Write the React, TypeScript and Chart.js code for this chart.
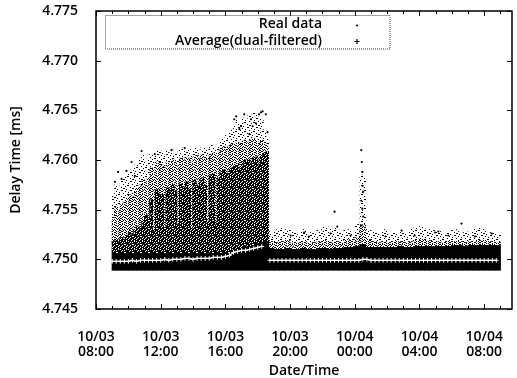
import React, { useEffect, useRef } from 'react';
import { Chart, registerables } from 'chart.js';

Chart.register(...registerables);

// ---- axes ----
const X_MIN = 8; // hours since 10/03 00:00
const X_MAX = 33.72;
const xTickHours = [8, 12, 16, 20, 24, 28, 32];
const xTickLabels = [
  ['10/03', '08:00'], ['10/03', '12:00'], ['10/03', '16:00'], ['10/03', '20:00'],
  ['10/04', '00:00'], ['10/04', '04:00'], ['10/04', '08:00'],
];
const yTicks = [4.745, 4.75, 4.755, 4.76, 4.765, 4.77, 4.775];

// ---- Real data: lower edge of the dense band ----
const REAL_MIN = 4.7489;

// Day segment, 10-minute bins
const dayBins = [
  '10/03 09:00', '10/03 09:10', '10/03 09:20', '10/03 09:30', '10/03 09:40', '10/03 09:50',
  '10/03 10:00', '10/03 10:10', '10/03 10:20', '10/03 10:30', '10/03 10:40', '10/03 10:50',
  '10/03 11:00', '10/03 11:10', '10/03 11:20', '10/03 11:30', '10/03 11:40', '10/03 11:50',
  '10/03 12:00', '10/03 12:10', '10/03 12:20', '10/03 12:30', '10/03 12:40', '10/03 12:50',
  '10/03 13:00', '10/03 13:10', '10/03 13:20', '10/03 13:30', '10/03 13:40', '10/03 13:50',
  '10/03 14:00', '10/03 14:10', '10/03 14:20', '10/03 14:30', '10/03 14:40', '10/03 14:50',
  '10/03 15:00', '10/03 15:10', '10/03 15:20', '10/03 15:30', '10/03 15:40', '10/03 15:50',
  '10/03 16:00', '10/03 16:10', '10/03 16:20', '10/03 16:30', '10/03 16:40', '10/03 16:50',
  '10/03 17:00', '10/03 17:10', '10/03 17:20', '10/03 17:30', '10/03 17:40', '10/03 17:50',
  '10/03 18:00', '10/03 18:10', '10/03 18:20', '10/03 18:30',
];
// top of the solid band
const dayBand = [
  4.7506, 4.7506, 4.7506, 4.7506, 4.7506, 4.7506,
  4.7506, 4.7506, 4.7506, 4.7506, 4.7506, 4.7506,
  4.7506, 4.7506, 4.7506, 4.7506, 4.7506, 4.7506,
  4.7506, 4.7506, 4.7506, 4.7506, 4.7506, 4.7506,
  4.7506, 4.7506, 4.7506, 4.7506, 4.7506, 4.7506,
  4.7506, 4.7506, 4.7506, 4.7506, 4.7506, 4.7506,
  4.7506, 4.7506, 4.7506, 4.7506, 4.7506, 4.7506,
  4.7506, 4.7506, 4.7508, 4.7510, 4.7511, 4.7511,
  4.7512, 4.7512, 4.7513, 4.7513, 4.7514, 4.7515,
  4.7516, 4.7517, 4.7518, 4.7518,
];
// top of the heavy (mostly black) cloud
const dayCore = [
  4.7518, 4.7520, 4.7518, 4.7522, 4.7520, 4.7524,
  4.7527, 4.7524, 4.7530, 4.7533, 4.7530, 4.7538,
  4.7545, 4.7542, 4.7560, 4.7528, 4.7570, 4.7566,
  4.7565, 4.7532, 4.7572, 4.7568, 4.7575, 4.7570,
  4.7535, 4.7576, 4.7572, 4.7578, 4.7570, 4.7530,
  4.7580, 4.7575, 4.7578, 4.7582, 4.7575, 4.7538,
  4.7584, 4.7586, 4.7535, 4.7582, 4.7588, 4.7590,
  4.7586, 4.7590, 4.7592, 4.7594, 4.7596, 4.7590,
  4.7598, 4.7600, 4.7600, 4.7598, 4.7602, 4.7603,
  4.7595, 4.7604, 4.7607, 4.7608,
];
// top of the medium-density cloud
const dayDense = [
  4.7540, 4.7552, 4.7548, 4.7555, 4.7558, 4.7560,
  4.7565, 4.7562, 4.7568, 4.7572, 4.7575, 4.7580,
  4.7578, 4.7582, 4.7592, 4.7590, 4.7598, 4.7598,
  4.7595, 4.7592, 4.7598, 4.7595, 4.7600, 4.7598,
  4.7595, 4.7602, 4.7600, 4.7603, 4.7602, 4.7598,
  4.7603, 4.7605, 4.7602, 4.7605, 4.7603, 4.7600,
  4.7606, 4.7608, 4.7603, 4.7608, 4.7612, 4.7614,
  4.7610, 4.7614, 4.7616, 4.7616, 4.7618, 4.7616,
  4.7618, 4.7620, 4.7618, 4.7620, 4.7622, 4.7620,
  4.7616, 4.7620, 4.7618, 4.7614,
];
// top of the sparse cloud
const daySparse = [
  4.7566, 4.7575, 4.7572, 4.7580, 4.7582, 4.7585,
  4.7590, 4.7588, 4.7595, 4.7598, 4.7602, 4.7605,
  4.7600, 4.7603, 4.7606, 4.7604, 4.7609, 4.7610,
  4.7608, 4.7605, 4.7610, 4.7606, 4.7610, 4.7607,
  4.7605, 4.7610, 4.7612, 4.7610, 4.7612, 4.7608,
  4.7612, 4.7612, 4.7610, 4.7613, 4.7612, 4.7610,
  4.7615, 4.7614, 4.7612, 4.7618, 4.7620, 4.7622,
  4.7625, 4.7628, 4.7630, 4.7635, 4.7640, 4.7638,
  4.7642, 4.7645, 4.7640, 4.7645, 4.7648, 4.7645,
  4.7640, 4.7642, 4.7630, 4.7622,
];

// Night segment, 20-minute bins
const nightBins = [
  '10/03 18:40', '10/03 19:00', '10/03 19:20', '10/03 19:40', '10/03 20:00', '10/03 20:20',
  '10/03 20:40', '10/03 21:00', '10/03 21:20', '10/03 21:40', '10/03 22:00', '10/03 22:20',
  '10/03 22:40', '10/03 23:00', '10/03 23:20', '10/03 23:40',
  '10/04 00:00', '10/04 00:20', '10/04 00:40', '10/04 01:00', '10/04 01:20', '10/04 01:40',
  '10/04 02:00', '10/04 02:20', '10/04 02:40', '10/04 03:00', '10/04 03:20', '10/04 03:40',
  '10/04 04:00', '10/04 04:20', '10/04 04:40', '10/04 05:00', '10/04 05:20', '10/04 05:40',
  '10/04 06:00', '10/04 06:20', '10/04 06:40', '10/04 07:00', '10/04 07:20', '10/04 07:40',
  '10/04 08:00', '10/04 08:20', '10/04 08:40',
];
const nightCore = [
  4.7511, 4.7510, 4.7510, 4.7511, 4.7510, 4.7510, 4.7511, 4.7510, 4.7510, 4.7511, 4.7511, 4.7510,
  4.7511, 4.7511, 4.7512, 4.7512,
  4.7513, 4.7515, 4.7512, 4.7512, 4.7512, 4.7512, 4.7512, 4.7512, 4.7513, 4.7512, 4.7512, 4.7513,
  4.7513, 4.7513, 4.7513, 4.7513, 4.7513, 4.7513, 4.7514, 4.7514, 4.7513, 4.7514, 4.7514, 4.7514,
  4.7514, 4.7514, 4.7514,
];
const nightDense = [
  4.7518, 4.7517, 4.7518, 4.7519, 4.7516, 4.7517, 4.7518, 4.7516, 4.7517, 4.7518, 4.7519, 4.7517,
  4.7518, 4.7517, 4.7520, 4.7518,
  4.7522, 4.7535, 4.7520, 4.7518, 4.7517, 4.7518, 4.7517, 4.7518, 4.7518, 4.7517, 4.7518, 4.7519,
  4.7520, 4.7519, 4.7518, 4.7518, 4.7517, 4.7518, 4.7518, 4.7518, 4.7517, 4.7518, 4.7518, 4.7519,
  4.7518, 4.7518, 4.7517,
];
const nightSparse = [
  4.7528, 4.7530, 4.7532, 4.7530, 4.7528, 4.7525, 4.7530, 4.7527, 4.7526, 4.7530, 4.7533, 4.7530,
  4.7532, 4.7527, 4.7530, 4.7528,
  4.7535, 4.7585, 4.7530, 4.7528, 4.7526, 4.7530, 4.7525, 4.7527, 4.7528, 4.7527, 4.7530, 4.7532,
  4.7533, 4.7530, 4.7529, 4.7528, 4.7526, 4.7527, 4.7530, 4.7528, 4.7527, 4.7528, 4.7530, 4.7532,
  4.7528, 4.7527, 4.7525,
];

// Isolated real-data points
const outlierTimes = [
  '10/03 09:10', '10/03 09:22', '10/03 09:35', '10/03 09:53', '10/03 10:12', '10/03 10:24',
  '10/03 10:49', '10/03 11:38', '10/03 12:40', '10/03 13:29', '10/03 16:33', '10/03 16:40',
  '10/03 16:52', '10/03 16:58', '10/03 17:10', '10/03 17:29', '10/03 17:35', '10/03 17:41',
  '10/03 17:53', '10/03 18:05', '10/03 18:12', '10/03 18:18', '10/03 18:30', '10/03 18:36',
  '10/03 20:02', '10/03 20:52', '10/03 21:10', '10/03 22:30', '10/03 22:45', '10/03 22:55',
  '10/03 23:44', '10/04 00:24', '10/04 00:26', '10/04 00:28', '10/04 00:29', '10/04 00:31',
  '10/04 00:24', '10/04 00:28', '10/04 00:31', '10/04 00:25', '10/04 01:54', '10/04 02:54',
  '10/04 03:42', '10/04 04:58', '10/04 05:10', '10/04 05:47', '10/04 06:36', '10/04 07:26',
  '10/04 08:27',
];
const outlierValues = [
  4.7578, 4.7588, 4.7581, 4.7589, 4.7598, 4.7584,
  4.7609, 4.7606, 4.7610, 4.7612, 4.7641, 4.7644,
  4.7631, 4.7634, 4.7646, 4.7626, 4.7641, 4.7634,
  4.7637, 4.7646, 4.7648, 4.7649, 4.7646, 4.7628,
  4.7524, 4.7527, 4.7523, 4.7526, 4.7548, 4.7533,
  4.7524, 4.7610, 4.7598, 4.7588, 4.7574, 4.7568,
  4.7559, 4.7551, 4.7543, 4.7534, 4.7523, 4.7529,
  4.7524, 4.7527, 4.7528, 4.7524, 4.7536, 4.7523,
  4.7526,
];

// Average (dual-filtered), every 15 minutes; null = gap
const avgTimes = [
  '10/03 09:00', '10/03 09:15', '10/03 09:30', '10/03 09:45', '10/03 10:00', '10/03 10:15',
  '10/03 10:30', '10/03 10:45', '10/03 11:00', '10/03 11:15', '10/03 11:30', '10/03 11:45',
  '10/03 12:00', '10/03 12:15', '10/03 12:30', '10/03 12:45', '10/03 13:00', '10/03 13:15',
  '10/03 13:30', '10/03 13:45', '10/03 14:00', '10/03 14:15', '10/03 14:30', '10/03 14:45',
  '10/03 15:00', '10/03 15:15', '10/03 15:30', '10/03 15:45', '10/03 16:00', '10/03 16:15',
  '10/03 16:30', '10/03 16:45', '10/03 17:00', '10/03 17:15', '10/03 17:30', '10/03 17:45',
  '10/03 18:00', '10/03 18:15', '10/03 18:30',
  '10/03 18:45', '10/03 19:00', '10/03 19:15', '10/03 19:30', '10/03 19:45', '10/03 20:00',
  '10/03 20:15', '10/03 20:30', '10/03 20:45', '10/03 21:00', '10/03 21:15', '10/03 21:30',
  '10/03 21:45', '10/03 22:00', '10/03 22:15', '10/03 22:30', '10/03 22:45', '10/03 23:00',
  '10/03 23:15', '10/03 23:30', '10/03 23:45',
  '10/04 00:00', '10/04 00:15', '10/04 00:30', '10/04 00:45', '10/04 01:00', '10/04 01:15',
  '10/04 01:30', '10/04 01:45', '10/04 02:00', '10/04 02:15', '10/04 02:30', '10/04 02:45',
  '10/04 03:00', '10/04 03:15', '10/04 03:30', '10/04 03:45', '10/04 04:00', '10/04 04:15',
  '10/04 04:30', '10/04 04:45', '10/04 05:00', '10/04 05:15', '10/04 05:30', '10/04 05:45',
  '10/04 06:00', '10/04 06:15', '10/04 06:30', '10/04 06:45', '10/04 07:00', '10/04 07:15',
  '10/04 07:30', '10/04 07:45', '10/04 08:00', '10/04 08:15', '10/04 08:30', '10/04 08:45',
];
const avgValues = [
  4.7498, 4.7498, 4.7498, 4.7498, 4.7498, 4.7499,
  4.7498, 4.7499, 4.7499, 4.7499, 4.7499, 4.7499,
  4.7499, 4.7500, 4.7499, 4.7500, 4.7500, 4.7500,
  4.7501, 4.7501, 4.7500, 4.7501, 4.7501, 4.7501,
  4.7501, 4.7502, 4.7502, 4.7502, 4.7503, 4.7504,
  4.7507, 4.7508, 4.7509, 4.7509, 4.7510, 4.7511,
  4.7512, 4.7513, null,
  4.7499, 4.7499, 4.7499, 4.7499, 4.7499, 4.7499,
  4.7499, 4.7499, 4.7499, 4.7499, 4.7499, 4.7499,
  4.7499, 4.7499, 4.7499, 4.7499, 4.7499, 4.7499,
  4.7499, 4.7499, 4.7499,
  4.7499, 4.7499, 4.7500, 4.7500, 4.7499, 4.7499,
  4.7499, 4.7499, 4.7499, 4.7499, 4.7499, 4.7499,
  4.7499, 4.7499, 4.7499, 4.7499, 4.7499, 4.7499,
  4.7499, 4.7499, 4.7499, 4.7499, 4.7499, 4.7499,
  4.7499, 4.7499, 4.7499, 4.7499, 4.7499, 4.7499,
  4.7499, 4.7499, 4.7499, 4.7499, 4.7499, 4.7499,
];

const FONT = "'Open Sans', 'DejaVu Sans', sans-serif";
const WEIGHT = '600';

const toHours = (s: string) => {
  const [md, hm] = s.split(' ');
  const [h, m] = hm.split(':').map(Number);
  return (md === '10/04' ? 24 : 0) + h + m / 60;
};

// stipple tiles used as fill styles for the scattered-dot cloud
const HEAVY_TILE = [
  '###.##.#',
  '.#####.#',
  '##.#.###',
  '#.######',
  '####..##',
  '##.####.',
  '#.####.#',
  '.###.###',
];
const MEDIUM_TILE = [
  '#..#.#...#',
  '.##...#.#.',
  '#...##...#',
  '..#...#.#.',
  '#.#.#....#',
  '.#...##.#.',
  '#..#...#..',
  '..#.##...#',
  '##....#.#.',
  '..#.#..#.#',
];
const LIGHT_TILE = [
  '#........',
  '....##...',
  '........#',
  '..#......',
  '......#..',
  '.##......',
  '........#',
  '....#....',
  '......##.',
];

function makePattern(rows: string[], fallback: string): CanvasPattern | string {
  const c = document.createElement('canvas');
  c.width = rows[0].length;
  c.height = rows.length;
  const g = c.getContext('2d');
  if (!g) return fallback;
  g.fillStyle = '#000';
  rows.forEach((r, j) => {
    for (let i = 0; i < r.length; i++) if (r[i] === '#') g.fillRect(i, j, 1, 1);
  });
  return g.createPattern(c, 'repeat') || fallback;
}

const framePlugin = {
  id: 'frameAndLegend',
  afterDraw(chart: any) {
    const { ctx, chartArea: a, scales } = chart;
    const x = scales.x;
    const y = scales.y;
    ctx.save();
    ctx.strokeStyle = '#000';
    ctx.lineWidth = 1.5;
    ctx.strokeRect(a.left, a.top, a.right - a.left, a.bottom - a.top);
    ctx.lineWidth = 1;
    ctx.beginPath();
    for (const v of yTicks) {
      const py = Math.round(y.getPixelForValue(v)) + 0.5;
      ctx.moveTo(a.left, py); ctx.lineTo(a.left + 5, py);
      ctx.moveTo(a.right, py); ctx.lineTo(a.right - 5, py);
    }
    for (let h = Math.ceil(X_MIN); h <= X_MAX; h++) {
      const len = xTickHours.includes(h) ? 5 : 3;
      const px = Math.round(x.getPixelForValue(h)) + 0.5;
      ctx.moveTo(px, a.bottom); ctx.lineTo(px, a.bottom - len);
      ctx.moveTo(px, a.top); ctx.lineTo(px, a.top + len);
    }
    ctx.stroke();

    // legend box inside the plot
    const entries = chart.data.datasets
      .filter((d: any) => d.legendMarker)
      .sort((p: any, q: any) => p.legendRank - q.legendRank);
    const bx = a.left + 9.5;
    const by = a.top + 4.5;
    ctx.setLineDash([1, 1]);
    ctx.strokeStyle = '#444';
    ctx.strokeRect(bx, by, 284.5, 33.5);
    ctx.setLineDash([]);
    ctx.font = `${WEIGHT} 14px ${FONT}`;
    ctx.fillStyle = '#000';
    ctx.textAlign = 'right';
    ctx.textBaseline = 'middle';
    entries.forEach((d: any, i: number) => {
      const ty = a.top + 13.5 + i * 17;
      ctx.fillText(d.label, a.left + 226, ty);
      const mx = a.left + 261;
      if (d.legendMarker === 'dot') {
        ctx.beginPath();
        ctx.arc(mx, ty + 1, 1, 0, Math.PI * 2);
        ctx.fill();
      } else {
        ctx.strokeStyle = '#000';
        ctx.lineWidth = 1.2;
        ctx.beginPath();
        ctx.moveTo(mx - 2.5, ty); ctx.lineTo(mx + 2.5, ty);
        ctx.moveTo(mx, ty - 2.5); ctx.lineTo(mx, ty + 2.5);
        ctx.stroke();
      }
    });
    ctx.restore();
  },
};

export default function App() {
  const ref = useRef<HTMLCanvasElement | null>(null);

  useEffect(() => {
    if (!ref.current) return;
    const heavy = makePattern(HEAVY_TILE, '#333');
    const medium = makePattern(MEDIUM_TILE, '#999');
    const light = makePattern(LIGHT_TILE, '#ddd');
    const dayX = dayBins.map((t) => toHours(t) + 5 / 60);
    const nightX = nightBins.map((t) => toHours(t) + 10 / 60);
    const barBase = { type: 'bar' as const, grouped: false, borderWidth: 0, borderSkipped: false };
    const dayBar = { ...barBase, barThickness: 3.1 };
    const nightBar = { ...barBase, barThickness: 5.8 };

    const chart = new Chart(ref.current, {
      type: 'scatter',
      data: {
        datasets: [
          {
            type: 'line',
            label: 'Average(dual-filtered)',
            legendMarker: 'plus',
            legendRank: 2,
            data: avgTimes.map((t, i) => ({ x: toHours(t), y: avgValues[i] })),
            borderColor: '#ffffff',
            borderWidth: 1.3,
            spanGaps: false,
            pointStyle: 'cross',
            pointRadius: 2.3,
            pointBorderColor: '#ffffff',
            pointBorderWidth: 1,
            pointBackgroundColor: '#ffffff',
          } as any,
          {
            type: 'scatter',
            label: 'Real data (isolated)',
            data: outlierTimes.map((t, i) => ({ x: toHours(t), y: outlierValues[i] })),
            pointRadius: 1.1,
            pointBorderWidth: 0,
            pointBackgroundColor: '#000',
          } as any,
          {
            ...dayBar,
            label: 'Real data',
            legendMarker: 'dot',
            legendRank: 1,
            data: dayX.map((x, i) => ({ x, y: [REAL_MIN, dayBand[i]] })),
            backgroundColor: '#000',
          } as any,
          {
            ...dayBar,
            label: 'Real data (heavy)',
            data: dayX.map((x, i) => ({ x, y: [dayBand[i], dayCore[i]] })),
            backgroundColor: heavy,
          } as any,
          {
            ...dayBar,
            label: 'Real data (medium)',
            data: dayX.map((x, i) => ({ x, y: [dayCore[i], dayDense[i]] })),
            backgroundColor: medium,
          } as any,
          {
            ...dayBar,
            label: 'Real data (sparse)',
            data: dayX.map((x, i) => ({ x, y: [dayDense[i], daySparse[i]] })),
            backgroundColor: light,
          } as any,
          {
            ...nightBar,
            label: 'Real data (night)',
            data: nightX.map((x, i) => ({ x, y: [REAL_MIN, nightCore[i]] })),
            backgroundColor: '#000',
          } as any,
          {
            ...nightBar,
            label: 'Real data (night medium)',
            data: nightX.map((x, i) => ({ x, y: [nightCore[i], nightDense[i]] })),
            backgroundColor: medium,
          } as any,
          {
            ...nightBar,
            label: 'Real data (night sparse)',
            data: nightX.map((x, i) => ({ x, y: [nightDense[i], nightSparse[i]] })),
            backgroundColor: light,
          } as any,
        ],
      },
      options: {
        animation: false,
        responsive: false,
        devicePixelRatio: 1,
        events: [],
        layout: { padding: { top: 11, right: 3, left: 0, bottom: 0 } },
        plugins: { legend: { display: false }, tooltip: { enabled: false } },
        scales: {
          x: {
            type: 'linear',
            min: X_MIN,
            max: X_MAX,
            offset: false,
            grid: { display: false, offset: false },
            border: { display: false },
            afterBuildTicks: (s: any) => { s.ticks = xTickHours.map((v) => ({ value: v })); },
            afterFit: (s: any) => { s.height = 69; s.paddingLeft = 0; s.paddingRight = 0; },
            ticks: {
              color: '#000',
              padding: 12,
              maxRotation: 0,
              autoSkip: false,
              font: { family: FONT, size: 14, weight: WEIGHT, lineHeight: 1.1 },
              callback: (_v: any, i: number) => xTickLabels[i],
            },
            title: {
              display: true,
              text: 'Date/Time',
              color: '#000',
              padding: { top: 0, bottom: 0 },
              font: { family: FONT, size: 14, weight: WEIGHT, lineHeight: 1 },
            },
          },
          y: {
            type: 'linear',
            min: 4.745,
            max: 4.775,
            beginAtZero: false,
            grid: { display: false },
            border: { display: false },
            afterBuildTicks: (s: any) => { s.ticks = yTicks.map((v) => ({ value: v })); },
            afterFit: (s: any) => { s.width = 96; s.paddingTop = 0; s.paddingBottom = 0; },
            ticks: {
              color: '#000',
              padding: 10,
              font: { family: FONT, size: 14, weight: WEIGHT },
              callback: (v: any) => Number(v).toFixed(3),
            },
            title: {
              display: true,
              text: 'Delay Time [ms]',
              color: '#000',
              padding: { top: 9, bottom: 0 },
              font: { family: FONT, size: 14, weight: WEIGHT, lineHeight: 1 },
            },
          },
        },
      } as any,
      plugins: [framePlugin],
    });
    return () => chart.destroy();
  }, []);

  return (
    <div style={{ position: 'absolute', left: 0, top: 0, width: 517, height: 378, background: '#fff' }}>
      <canvas ref={ref} width={517} height={378} style={{ display: 'block' }} />
    </div>
  );
}
